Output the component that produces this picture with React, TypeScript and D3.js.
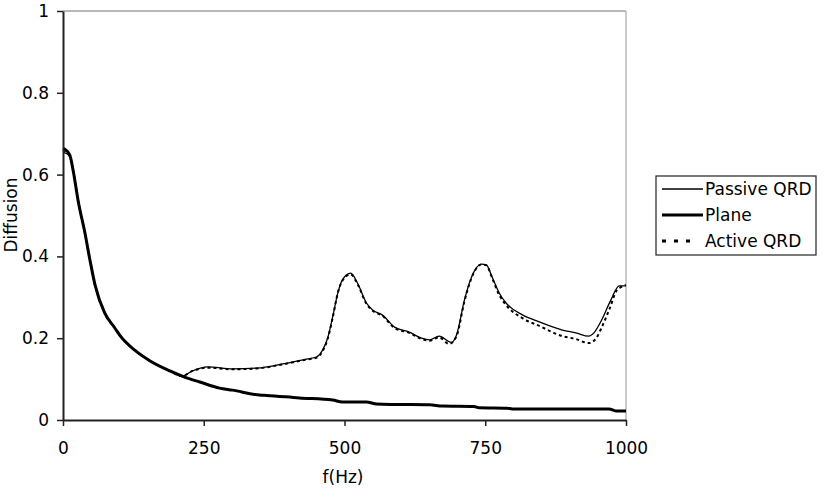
import React, { useEffect, useRef } from 'react';
import * as d3 from 'd3';

// frequency (Hz) / diffusion coefficient
const planeFreq = [0, 12, 18, 27, 39, 48, 57, 74, 92, 101, 128, 154, 190, 216, 243, 278, 301, 349, 362, 420, 479, 496, 539, 557, 592, 651, 674, 730, 739, 789, 798, 970, 982, 1000];
const planeVal = [0.665, 0.648, 0.61, 0.535, 0.457, 0.39, 0.33, 0.262, 0.225, 0.207, 0.17, 0.145, 0.12, 0.105, 0.093, 0.078, 0.073, 0.061, 0.06, 0.054, 0.049, 0.044, 0.044, 0.039, 0.038, 0.037, 0.034, 0.033, 0.03, 0.029, 0.027, 0.027, 0.022, 0.022];

const passiveFreq = [0, 12, 18, 27, 39, 48, 57, 74, 92, 101, 128, 154, 190, 211, 230, 257, 301, 344, 390, 433, 450, 461, 470, 479, 488, 496, 511, 523, 539, 550, 567, 589, 615, 637, 651, 668, 690, 699, 713, 725, 743, 752, 762, 775, 787, 816, 846, 887, 911, 934, 943, 957, 973, 988, 1000];
const passiveVal = [0.655, 0.645, 0.61, 0.535, 0.457, 0.39, 0.33, 0.262, 0.225, 0.207, 0.17, 0.145, 0.12, 0.107, 0.12, 0.13, 0.125, 0.127, 0.137, 0.149, 0.154, 0.171, 0.2, 0.252, 0.31, 0.342, 0.359, 0.335, 0.286, 0.269, 0.257, 0.227, 0.215, 0.2, 0.196, 0.205, 0.19, 0.208, 0.293, 0.347, 0.381, 0.379, 0.35, 0.31, 0.286, 0.257, 0.24, 0.22, 0.213, 0.205, 0.213, 0.245, 0.293, 0.328, 0.328];

const activeFreq = [0, 12, 18, 27, 39, 48, 57, 74, 92, 101, 128, 154, 190, 211, 230, 257, 301, 344, 390, 433, 450, 461, 470, 479, 488, 496, 511, 523, 539, 550, 567, 589, 615, 637, 651, 668, 686, 699, 713, 725, 743, 752, 762, 775, 787, 816, 846, 887, 911, 934, 947, 957, 970, 984, 991, 1000];
const activeVal = [0.66, 0.645, 0.61, 0.535, 0.457, 0.39, 0.33, 0.262, 0.225, 0.207, 0.17, 0.145, 0.12, 0.107, 0.12, 0.128, 0.124, 0.126, 0.136, 0.148, 0.152, 0.168, 0.198, 0.25, 0.31, 0.34, 0.356, 0.333, 0.284, 0.267, 0.255, 0.225, 0.213, 0.198, 0.194, 0.202, 0.186, 0.205, 0.29, 0.345, 0.38, 0.378, 0.348, 0.305, 0.281, 0.249, 0.23, 0.205, 0.198, 0.188, 0.2, 0.227, 0.269, 0.318, 0.325, 0.33];

const yTicks = [0, 0.2, 0.4, 0.6, 0.8, 1];
const xTicks = [0, 250, 500, 750, 1000];
const legendNames = ['Passive QRD', 'Plane', 'Active QRD'];

const FONT = '"DejaVu Sans", Verdana, sans-serif';

const App = () => {
    const svgRef = useRef<SVGSVGElement | null>(null);

    useEffect(() => {
        if (!svgRef.current) return;
        const svg = d3.select(svgRef.current);
        svg.selectAll('*').remove();

        const x = d3.scaleLinear().domain([0, 1000]).range([63, 626]);
        const y = d3.scaleLinear().domain([0, 1]).range([420, 11]);

        // plot frame: grey top/right
        svg.append('line')
            .attr('x1', x(0)).attr('x2', x(1000)).attr('y1', y(1)).attr('y2', y(1))
            .attr('stroke', '#a0a0a0').attr('stroke-width', 1.5);
        svg.append('line')
            .attr('x1', x(1000)).attr('x2', x(1000)).attr('y1', y(1)).attr('y2', y(0))
            .attr('stroke', '#b8b8b8').attr('stroke-width', 1.5);

        const series = [
            { name: 'Plane', f: planeFreq, v: planeVal, width: 3, dash: null },
            { name: 'Passive QRD', f: passiveFreq, v: passiveVal, width: 1.3, dash: null },
            { name: 'Active QRD', f: activeFreq, v: activeVal, width: 2, dash: '3,3' }
        ];

        const line = d3.line<[number, number]>()
            .x(d => x(d[0]))
            .y(d => y(d[1]))
            .curve(d3.curveMonotoneX);

        series.forEach(s => {
            const pts: [number, number][] = s.f.map((f, i) => [f, s.v[i]]);
            svg.append('path')
                .datum(pts)
                .attr('fill', 'none')
                .attr('stroke', '#000')
                .attr('stroke-width', s.width)
                .attr('stroke-linejoin', 'round')
                .attr('stroke-dasharray', s.dash)
                .attr('d', line);
        });

        // Axes
        const yAxis = svg.append('g')
            .attr('transform', `translate(${x(0)},0)`)
            .call(d3.axisLeft(y).tickValues(yTicks).tickSize(6).tickPadding(8)
                .tickSizeOuter(0)
                .tickFormat(d => (d === 0 || d === 1 ? String(d) : (d as number).toFixed(1))));
        yAxis.select('.domain').attr('stroke', '#222').attr('stroke-width', 2);
        yAxis.selectAll('.tick line').attr('stroke', '#222').attr('stroke-width', 1.5);
        yAxis.selectAll('text')
            .attr('fill', '#000')
            .style('font-family', FONT)
            .style('font-size', '17px');

        const xAxis = svg.append('g')
            .attr('transform', `translate(0,${y(0)})`)
            .call(d3.axisBottom(x).tickValues(xTicks).tickSize(6).tickPadding(16).tickSizeOuter(0)
                .tickFormat(d => String(d)));
        xAxis.select('.domain').attr('stroke', '#222').attr('stroke-width', 2);
        xAxis.selectAll('.tick line').attr('stroke', '#222').attr('stroke-width', 1.5);
        xAxis.selectAll('text')
            .attr('fill', '#000')
            .style('font-family', FONT)
            .style('font-size', '17px');

        // Axis titles
        svg.append('text')
            .attr('x', 343).attr('y', 483)
            .attr('text-anchor', 'middle')
            .style('font-family', FONT).style('font-size', '17px')
            .text('f(Hz)');
        svg.append('text')
            .attr('transform', 'translate(17,215) rotate(-90)')
            .attr('text-anchor', 'middle')
            .style('font-family', FONT).style('font-size', '17px')
            .text('Diffusion');

        // Legend
        const legend = svg.append('g').attr('transform', 'translate(656,176)');
        legend.append('rect')
            .attr('width', 160).attr('height', 79)
            .attr('fill', '#fff').attr('stroke', '#222').attr('stroke-width', 1.2);
        const legendStyle: Record<string, { width: number; dash: string | null; end: number }> = {
            'Passive QRD': { width: 1.3, dash: null, end: 47 },
            'Plane': { width: 3, dash: null, end: 47 },
            'Active QRD': { width: 3, dash: '4,8', end: 34 }
        };
        legendNames.forEach((name, i) => {
            const cy = 13 + i * 26;
            legend.append('line')
                .attr('x1', 6).attr('x2', legendStyle[name].end).attr('y1', cy).attr('y2', cy)
                .attr('stroke', '#000')
                .attr('stroke-width', legendStyle[name].width)
                .attr('stroke-dasharray', legendStyle[name].dash);
            legend.append('text')
                .attr('x', 49).attr('y', cy + 6)
                .style('font-family', FONT).style('font-size', '17px')
                .text(name);
        });
    }, []);

    return (
        <div style={{ position: 'absolute', left: 0, top: 0, width: 828, height: 498, background: '#fff' }}>
            <svg ref={svgRef} width={828} height={498} style={{ display: 'block' }} />
        </div>
    );
};

export default App;
